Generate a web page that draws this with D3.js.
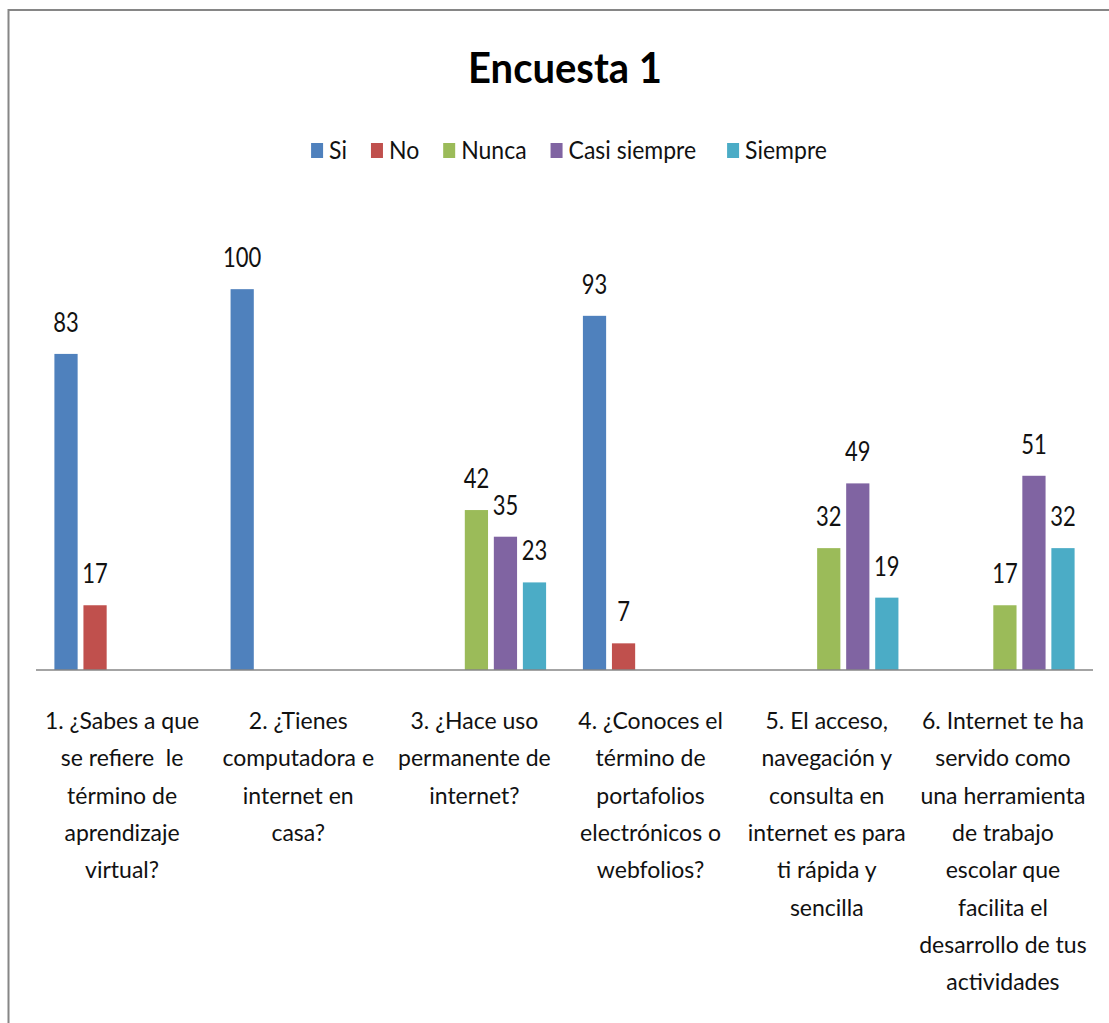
<!DOCTYPE html>
<html><head><meta charset="utf-8">
<script src="https://cdn.jsdelivr.net/npm/d3@7"></script>
<style>html,body{margin:0;padding:0;background:#fff;overflow:hidden}</style>
</head><body>
<svg id="c" width="1109" height="1023"></svg>
<script>
const title = "Encuesta 1";
const categories = [
  "1. ¿Sabes a que\nse refiere  le\ntérmino de\naprendizaje\nvirtual?",
  "2. ¿Tienes\ncomputadora e\ninternet en\ncasa?",
  "3. ¿Hace uso\npermanente de\ninternet?",
  "4. ¿Conoces el\ntérmino de\nportafolios\nelectrónicos o\nwebfolios?",
  "5. El acceso,\nnavegación y\nconsulta en\ninternet es para\nti rápida y\nsencilla",
  "6. Internet te ha\nservido como\nuna herramienta\nde trabajo\nescolar que\nfacilita el\ndesarrollo de tus\nactividades"
];
const seriesNames = ["Si", "No", "Nunca", "Casi siempre", "Siempre"];
const si          = [83, 100, null, 93, null, null];
const no          = [17, null, null, 7, null, null];
const nunca       = [null, null, 42, null, 32, 17];
const casiSiempre = [null, null, 35, null, 49, 51];
const siempre     = [null, null, 23, null, 19, 32];
const colors = ["#4F81BD", "#C0504D", "#9BBB59", "#8064A2", "#4BACC6"];

const seriesValues = [si, no, nunca, casiSiempre, siempre];
const FONT = "Lato, 'Open Sans', sans-serif";

const svg = d3.select("#c");
svg.append("rect").attr("x", 8.5).attr("y", 10).attr("width", 1130).attr("height", 1040)
  .attr("fill", "#fff").attr("stroke", "#868686").attr("stroke-width", 2);

const x0 = d3.scaleBand().domain(d3.range(categories.length)).range([36, 1093]).padding(0);
const x1 = d3.scaleBand().domain(seriesNames)
  .range([15.5, x0.bandwidth() - 15.5]).paddingInner(0.2).paddingOuter(0.1);
const y = d3.scaleLinear().domain([0, 120]).range([670, 213]);

svg.append("text").attr("x", 0).attr("y", 0)
  .attr("transform", "translate(565,83) scale(1,1.06)")
  .attr("text-anchor", "middle").attr("font-family", FONT).attr("font-weight", "bold")
  .attr("font-size", 40).attr("fill", "#000").text(title);

const lg = svg.append("g");
let lx = 0;
seriesNames.forEach((name, i) => {
  const g = lg.append("g");
  g.append("rect").attr("x", lx).attr("y", 143).attr("width", 12).attr("height", 15).attr("fill", colors[i]);
  const t = g.append("text").attr("x", 0).attr("y", 0)
    .attr("transform", `translate(${lx + 18},159) scale(1,1.1)`)
    .attr("font-family", FONT).attr("font-size", 23).attr("fill", "#111").text(name);
  const w = t.node().getComputedTextLength();
  lx += 18 + w + (i === 3 ? 31 : 24);
});
const legendW = lx - 24;
lg.attr("transform", `translate(${569 - legendW / 2},0)`);

seriesNames.forEach((name, s) => {
  const vals = seriesValues[s].map((v, i) => ({ i, v })).filter(d => d.v != null);
  svg.append("g").selectAll("rect").data(vals).join("rect")
    .attr("x", d => x0(d.i) + x1(name))
    .attr("width", x1.bandwidth())
    .attr("y", d => y(d.v))
    .attr("height", d => y(0) - y(d.v))
    .attr("fill", colors[s]);
  svg.append("g").selectAll("text").data(vals).join("text")
    .attr("x", 0).attr("y", 0)
    .attr("transform", d => `translate(${x0(d.i) + x1(name) + x1.bandwidth() / 2},${y(d.v) - 22}) scale(1,1.2)`)
    .attr("text-anchor", "middle").attr("font-family", FONT).attr("font-size", 22)
    .attr("fill", "#111").text(d => d.v);
});

svg.append("line").attr("x1", 36).attr("x2", 1093).attr("y1", y(0)).attr("y2", y(0))
  .attr("stroke", "#868686").attr("stroke-width", 1.5);

categories.forEach((c, i) => {
  const lines = c.split("\n");
  const cx = x0(i) + x0.bandwidth() / 2 - 2;
  lines.forEach((ln, k) => {
    svg.append("text").attr("x", cx).attr("y", 729 + k * 37.3)
      .attr("text-anchor", "middle").attr("font-family", FONT).attr("font-size", 23)
      .attr("fill", "#111").style("white-space", "pre").text(ln);
  });
});
</script>
</body></html>
